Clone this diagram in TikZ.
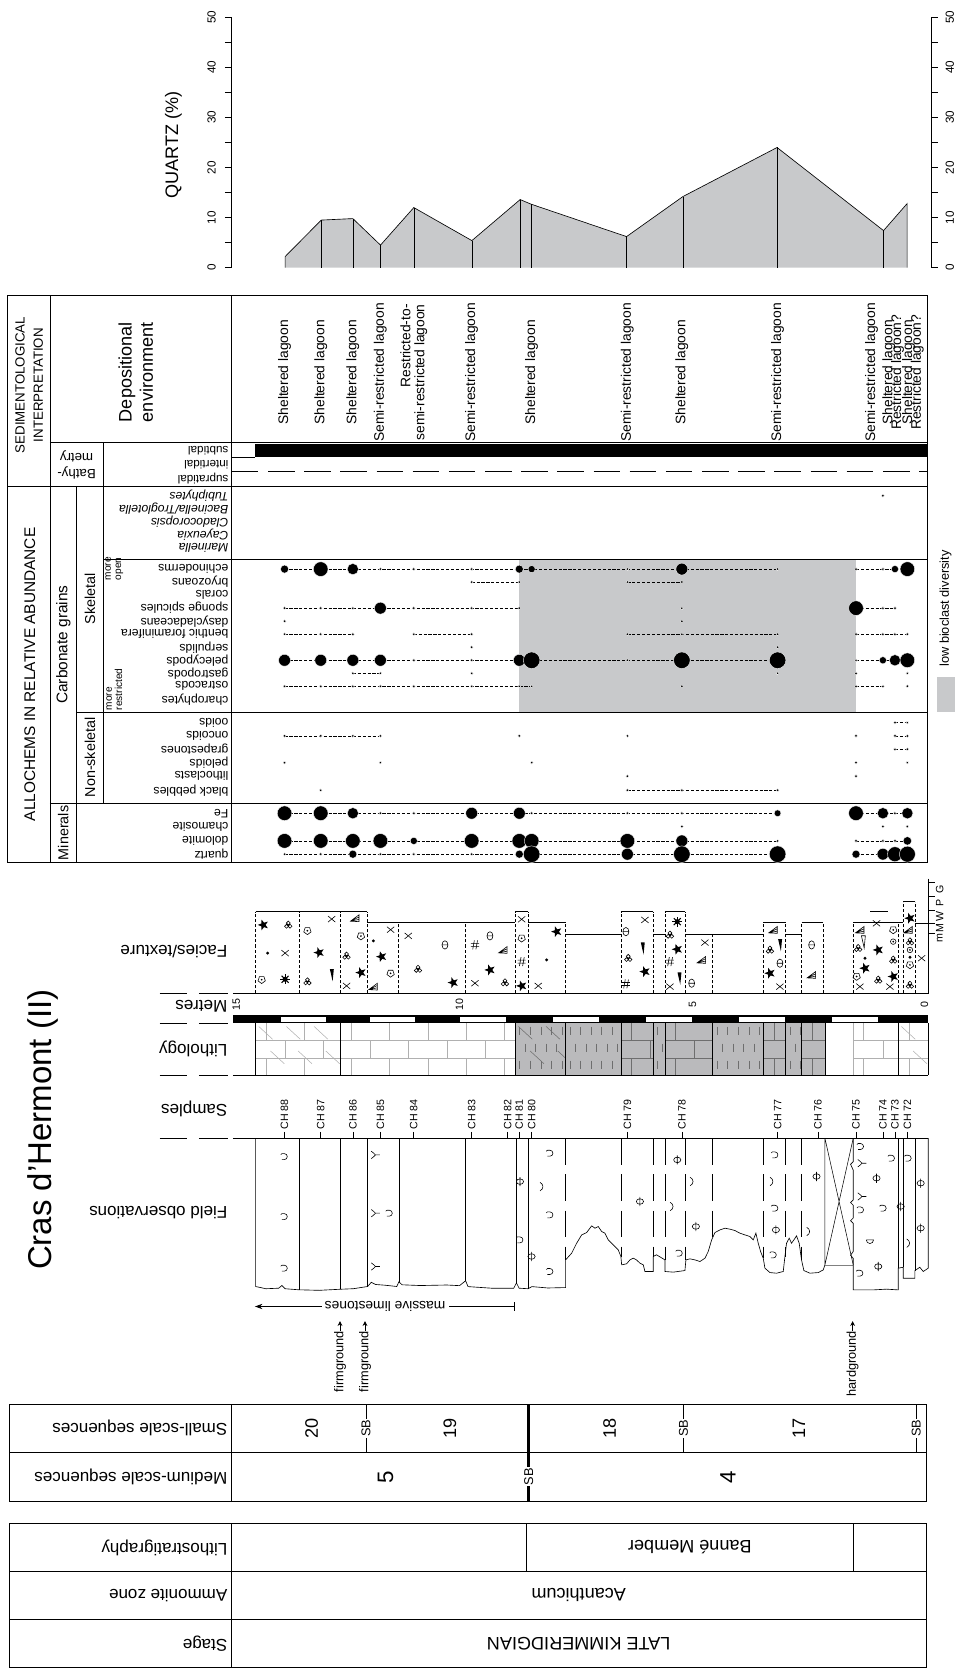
\documentclass[tikz,border=0pt]{standalone}
\usepackage{fontspec}
\setmainfont{Liberation Sans}
\usetikzlibrary{positioning,arrows.meta}

\definecolor{lowdiv}{RGB}{200,201,203}
\definecolor{dolofill}{RGB}{186,186,188}
\definecolor{brickgray}{RGB}{176,176,176}
\definecolor{brickdark}{RGB}{110,110,110}

\newcommand\fsz[1]{\fontsize{#1}{#1}\selectfont}

% one run of dots in an allochem row: y, first x, last x, x/radius list
\newcommand\abrow[4]{%
  \draw[abline] (#2,#1) -- (#3,#1);
  \foreach \px/\pr in {#4} {\filldraw[abdot] (\px,#1) circle (\pr pt);}}

% lithology patterns: left x, right x, colour
\newcommand\bricks[3]{%
  \begin{scope}
    \clip (#1,962) rectangle (#2,1011);
    \draw[#3, line width=0.5pt] (#1,978.3) -- (#2,978.3) (#1,994.6) -- (#2,994.6);
    \foreach \bx in {0,36,...,180}
      \draw[#3, line width=0.5pt] ({#1+\bx+10},962) -- ++(0,16.3)
        ({#1+\bx+28},978.3) -- ++(0,16.3) ({#1+\bx+10},994.6) -- ++(0,16.4);
  \end{scope}}
\newcommand\slashes[3]{%
  \begin{scope}
    \clip (#1,962) rectangle (#2,1011);
    \foreach \bx in {0,26,...,104}
      \draw[#3, line width=0.5pt] ({#1+\bx+3},965) -- ++(13,12) ({#1+\bx+14},988) -- ++(13,12);
  \end{scope}}
\newcommand\vdashes[2]{%
  \begin{scope}
    \clip (#1,962) rectangle (#2,1011);
    \foreach \bx in {0,10,...,60}
      \draw[brickdark, line width=0.5pt] ({#1+\bx+4},965) -- ++(0,8)
        ({#1+\bx+9},981) -- ++(0,8) ({#1+\bx+4},997) -- ++(0,8);
  \end{scope}}

\begin{document}
\begin{tikzpicture}[x=1pt, y=-1pt, line width=0.6pt,
    every node/.style={inner sep=0pt},
    readup/.style={rotate=90},
    upsdown/.style={rotate=180, anchor=west},
    colhead/.style={upsdown, font=\fsz{16}},
    grainlab/.style={upsdown, font=\fsz{11.5}},
    boxline/.style={line width=0.8pt},
    abline/.style={line width=0.45pt, dash pattern=on 3pt off 1.6pt},
    abdot/.style={fill=black, draw=white, line width=0.35pt},
    facside/.style={line width=0.5pt, dash pattern=on 3pt off 1.8pt},
    longdash/.style={line width=0.6pt, dash pattern=on 25pt off 9pt},
    symline/.style={line width=0.55pt},
    starsym/.pic={\fill (180:5.3) -- (216:2.2) -- (252:5.3) -- (288:2.2) -- (324:5.3)
      -- (0:2.2) -- (36:5.3) -- (72:2.2) -- (108:5.3) -- (144:2.2) -- cycle;},
    crosssym/.pic={\draw[symline] (-3.4,-2.8) -- (3.4,2.8) (-3.4,2.8) -- (3.4,-2.8);},
    dotsym/.pic={\fill (0,0) circle (1.5pt);},
    pentsym/.pic={\draw[symline] (90:3.6) -- (162:3.6) -- (234:3.6) -- (306:3.6) -- (18:3.6) -- cycle;
      \fill (0,0) circle (0.9pt);},
    trefsym/.pic={\draw[symline] (0,-1.8) circle (1.8pt) (-1.7,1.3) circle (1.8pt) (1.7,1.3) circle (1.8pt);},
    sunsym/.pic={\fill (0,0) circle (2.4pt);
      \foreach \a in {0,45,...,315} \draw[line width=1pt] (\a:1.8) -- (\a:4.6);},
    dagsym/.pic={\fill (-1.7,-5.5) -- (2,-5.5) -- (0.9,6) -- cycle;},
    opentri/.pic={\draw[symline] (-1.7,-5.5) -- (2,-5.5) -- (0.9,6) -- cycle;},
    shellsym/.pic={\draw[symline] (0,0) ellipse (2.8pt and 3.9pt) (-2.8,0) -- (2.8,0);},
    fansym/.pic={\draw[symline] (-4.3,2.8) -- (3.8,-3.2) -- (3.8,3.2) -- cycle (-4.3,2.8) -- (3.8,-1.1) (-4.3,2.8) -- (3.8,1.1);},
    hashsym/.pic={\draw[symline] (-3.8,-1.4) -- (3.8,-1.4) (-3.8,1.4) -- (3.8,1.4)
      (-2.1,4.2) -- (-0.6,-4.2) (0.9,4.2) -- (2.4,-4.2);},
    bullsym/.pic={\draw[symline] (0,0) circle (2.6pt); \fill (0,0) circle (0.9pt);},
    burrsym/.pic={\draw[symline] (-2.4,-2.8) -- (0,-2.8) arc (-90:90:2.8) -- (-2.4,2.8)
      (-2.4,-2.8) -- (-3.4,-1.8);},
    phisym/.pic={\draw[symline] (0,0) ellipse (3.4pt and 2.6pt) (0,-4.3) -- (0,4.3);},
    ysym/.pic={\draw[symline] (4.5,0) -- (0.5,0) .. controls (-1.5,0) and (-1,-3.5) .. (-3.5,-3.5)
      (0.5,0) .. controls (-1.5,0) and (-1,3.5) .. (-3.5,3.5);},
    parsym/.pic={\draw[symline] (-1.4,-4) .. controls (2.2,-2) and (2.2,2) .. (-1.4,4);},
    domesym/.pic={\draw[symline] (-3.4,1.6) -- (3.4,1.6) arc (0:180:3.4);}
  ]
\useasboundingbox (0,0) rectangle (910,1569);

% ---------- quartz curve
\fill[lowdiv] (268,251.6) \foreach \x/\v in {268/2.2, 302/9.5, 331.7/9.8, 357.7/4.5, 389/12,
    443.6/5.4, 489/13.6, 499/12.7, 589/6.2, 642/14.2, 730.5/24, 830.6/7.4, 852.8/12.8}
  {-- (\x,{251.6-4.706*\v})} -- (852.8,251.6) -- cycle;
\draw (268,251.6) \foreach \x/\v in {268/2.2, 302/9.5, 331.7/9.8, 357.7/4.5, 389/12,
    443.6/5.4, 489/13.6, 499/12.7, 589/6.2, 642/14.2, 730.5/24, 830.6/7.4, 852.8/12.8}
  {-- (\x,{251.6-4.706*\v})} -- (852.8,251.6);
\foreach \x/\v in {302/9.5, 331.7/9.8, 357.7/4.5, 389/12, 443.6/5.4, 489/13.6, 499/12.7,
    589/6.2, 642/14.2, 730.5/24, 830.6/7.4}
  \draw[line width=0.5pt] (\x,251.6) -- (\x,{251.6-4.706*\v});
\draw (217.8,16.3) -- (217.8,251.6) (875.7,16.3) -- (875.7,251.6);
\foreach \v in {0,5,...,50}
  \draw (211.5,{251.6-4.706*\v}) -- (217.8,{251.6-4.706*\v})
        (875.7,{251.6-4.706*\v}) -- (882,{251.6-4.706*\v});
\foreach \v in {0,10,...,50} {
  \node[readup, font=\fsz{11}] (ql\v) at (199,{251.6-4.706*\v}) {\v};
  \node[readup, font=\fsz{11}] (qr\v) at (893,{251.6-4.706*\v}) {\v};}
\node[readup, font=\fsz{17}] (qlab) at (163,136) {QUARTZ (\%)};

% ---------- sedimentology and allochem table
\fill[lowdiv] (488.2,526.4) rectangle (804.7,669.6);
\fill (240,417.5) rectangle (872,430);
\draw (218,430) -- (240,430);
\draw[longdash] (218,443) -- (872,443);
\draw[boxline] (7,278) rectangle (872,811);
\draw[boxline] (47,278) -- (47,811) (218,278) -- (218,811) (72,457) -- (72,811) (97,416) -- (97,755)
  (47,416) -- (872,416) (7,457) -- (872,457) (97,526) -- (872,526) (72,670) -- (872,670)
  (47,755) -- (872,755);

\node[readup, align=center, font=\fontsize{12.5}{17}\selectfont] (sedhd) at (27.4,362)
  {SEDIMENTOLOGICAL\\INTERPRETATION};
\node[readup, font=\fsz{14.5}] (allhd) at (28,634) {ALLOCHEMS IN RELATIVE ABUNDANCE};
\node[readup, align=center, font=\fontsize{17}{20}\selectfont] (dephd) at (127.7,350)
  {Depositional\\environment};
\node[rotate=180, align=center, font=\fontsize{12.5}{15}\selectfont] (bathy) at (72,437) {Bathy-\\metry};
\node[readup, font=\fsz{14.5}] (carb) at (59.5,606) {Carbonate grains};
\node[readup, font=\fsz{13.5}] (skel) at (84.6,563) {Skeletal};
\node[readup, font=\fsz{13.5}] (nskel) at (84.6,712) {Non-skeletal};
\node[readup, font=\fsz{13.5}] (minr) at (59.5,783) {Minerals};
\node[readup, anchor=west, align=left, font=\fsz{9.5}] (mopen) at (107.5,545.7) {more\\open};
\node[readup, anchor=west, align=left, font=\fsz{9.5}] (mrestr) at (107.5,667.9) {more\\restricted};

\foreach \t/\y [count=\i] in {subtidal/423.7, intertidal/436.8, supratidal/450}
  \node[grainlab, font=\fsz{11}] (bat\i) at (215,\y) {\t};
\foreach \t/\y [count=\i] in {Tubiphytes/466, {Bacinella/Troglotella}/478.3, Cladocoropsis/490.5,
    Cayeuxia/502.8, Marinella/515}
  \node[grainlab, font=\fsz{11.5}\itshape] (alg\i) at (215,\y) {\t};
\foreach \t/\y [count=\i] in {echinoderms/535, bryozoans/547.2, corals/559.5, sponge spicules/571.7,
    dasycladaceans/584, benthic foraminifera/596.2, serpulids/608.5, pelecypods/620.7,
    gastropods/633, ostracods/645.2, charophytes/657.4, ooids/679.3, oncoids/691.8,
    grapestones/704.4, peloids/716.9, lithoclasts/729.7, black pebbles/742.9,
    Fe/764.5, chamosite/777, dolomite/790.5, quartz/803}
  \node[grainlab] (gr\i) at (215,\y) {\t};

\foreach \x/\t [count=\i] in {267.5/Sheltered lagoon, 301.5/Sheltered lagoon, 331.7/Sheltered lagoon,
    357.6/Semi-restricted lagoon, 443.4/Semi-restricted lagoon, 499.8/Sheltered lagoon,
    589.8/Semi-restricted lagoon, 641/Sheltered lagoon, 731/Semi-restricted lagoon,
    819.3/Semi-restricted lagoon, 835.5/Sheltered lagoon, 843.8/Restricted lagoon?,
    854/Sheltered lagoon, 862.3/Restricted lagoon?}
  \node[readup, font=\fsz{13}] (env\i) at (\x,350) {\t};
\node[readup, align=right, font=\fsz{13}] (envrt) at (389,350) {Restricted-to-\\semi-restricted lagoon};

% allochem abundances
\abrow{535}{267.5}{731}{267.5/3.8, 301.5/6.9, 331.7/5.3, 357.6/1.4, 389/1.4, 443.4/1.4, 488.2/3.8,
  499.8/3.4, 589.8/1.4, 641/5.6, 731/1.4}
\abrow{535}{804.7}{853}{804.7/1.4, 830/1.4, 841.3/3.4, 853/6.9}
\abrow{547.2}{443.4}{488.2}{443.4/1.4, 488.2/1.4}
\abrow{547.2}{589.8}{641}{589.8/1.4, 641/1.4}
\abrow{571.7}{267.5}{488.2}{267.5/1.4, 301.5/1.4, 331.7/1.4, 357.6/5.6, 389/1.4, 443.4/1.4, 488.2/1.4}
\abrow{571.7}{804.7}{841.3}{804.7/6.9, 830/1.4, 841.3/1.4}
\abrow{596.2}{267.5}{331.7}{267.5/1.4, 301.5/1.4, 331.7/1.4}
\abrow{596.2}{389}{443.4}{389/1.4, 443.4/1.4}
\abrow{596.2}{589.8}{731}{589.8/1.4, 641/1.4, 731/1.4}
\abrow{596.2}{804.7}{853}{804.7/1.4, 830/1.4, 841.3/1.4, 853/1.4}
\abrow{620.7}{267.5}{731}{267.5/5.6, 301.5/5.6, 331.7/5.6, 357.6/5.6, 389/1.4, 443.4/1.4, 488.2/5.6,
  499.8/7.8, 589.8/1.4, 641/7.8, 731/7.8}
\abrow{620.7}{804.7}{853}{804.7/1.4, 830/3.4, 841.3/5.3, 853/6.9}
\abrow{633}{331.7}{357.6}{331.7/1.4, 357.6/1.4}
\abrow{645.2}{267.5}{499.8}{267.5/1.4, 301.5/1.4, 331.7/1.4, 357.6/1.4, 389/1.4, 443.4/1.4, 488.2/1.4, 499.8/1.4}
\abrow{645.2}{804.7}{830}{804.7/1.4, 830/1.4}
\abrow{679.3}{841.3}{853}{841.3/1.4, 853/1.4}
\abrow{691.8}{267.5}{357.6}{267.5/1.4, 301.5/1.4, 331.7/1.4, 357.6/1.4}
\abrow{691.8}{841.3}{853}{841.3/1.4, 853/1.4}
\abrow{704.4}{841.3}{853}{841.3/1.4, 853/1.4}
\abrow{742.9}{589.8}{731}{589.8/1.4, 641/1.4, 731/1.4}
\abrow{764.5}{267.5}{731}{267.5/6.9, 301.5/6.9, 331.7/5.3, 357.6/1.4, 389/1.4, 443.4/5.6, 488.2/5.6,
  499.8/1.4, 589.8/1.4, 641/1.4, 731/3.2}
\abrow{764.5}{804.7}{853}{804.7/6.9, 830/5.3, 841.3/1.4, 853/5.3}
\abrow{790.5}{267.5}{731}{267.5/6.9, 301.5/6.9, 331.7/6.9, 357.6/6.9, 389/3.4, 443.4/6.9, 488.2/6.9,
  499.8/6.9, 589.8/6.9, 641/5.6, 731/1.4}
\abrow{790.5}{804.7}{853}{804.7/1.4, 830/1.4, 841.3/1.4, 853/4}
\abrow{803}{267.5}{731}{267.5/1.4, 301.5/1.4, 331.7/3.8, 357.6/1.4, 389/1.4, 443.4/1.4, 488.2/3.8,
  499.8/7.8, 589.8/5.6, 641/7.8, 731/7.8}
\abrow{803}{804.7}{853}{804.7/3.8, 830/5.5, 841.3/7, 853/7.5}
\foreach \px/\py in {641/571.7, 267.5/584, 641/584, 443.4/608.5, 731/608.5, 443.4/633, 731/633,
    804.7/633, 853/633, 641/645.2, 853/645.2, 830/466, 488.2/691.8, 589.8/691.8, 804.7/691.8,
    267.5/716.9, 357.6/716.9, 499.8/716.9, 804.7/716.9, 853/716.9, 589.8/729.7, 804.7/729.7,
    301.5/742.9, 641/777, 830/777, 853/777}
  \filldraw[abdot] (\px,\py) circle (1.4pt);

% legend
\node[readup, font=\fsz{12}] (leglab) at (889,572) {low bioclast diversity};
\fill[lowdiv] (880.5,636) rectangle (898,669);

% ---------- title and column heads
\node[readup, font=\fsz{31}] (title) at (40,1062) {Cras d'Hermont (II)};
\node[colhead] (hfac) at (214,895) {Facies/texture};
\node[colhead] (hmet) at (214,946) {Metres};
\node[colhead] (hlit) at (214,986) {Lithology};
\node[colhead] (hsam) at (214,1042) {Samples};
\node[colhead] (hfob) at (214,1140) {Field observations};
\foreach \y in {934,962,1011,1070}
  \draw (150,\y) -- (176,\y) (187,\y) -- (214,\y);

% ---------- facies / texture
\foreach \a/\b/\t in {240.3/281.4/857, 281.4/320.2/857, 320.2/345.3/857, 345.3/374.7/867.3,
    374.7/437.7/867.3, 437.7/484.4/867, 484.4/496.6/857, 496.6/531.7/867, 583.7/614/857,
    625/643.9/857, 643.9/669.9/878, 717.5/738.5/867, 753.5/773.9/867, 802/844.4/867,
    844.4/849/867, 849/860/847.6} {
  \draw (\a,\t) -- (\b,\t);
  \draw[facside] (\a,934) -- (\a,\t) (\b,934) -- (\b,\t);}
\draw (531.7,878) -- (583.7,878) (614,878) -- (625,878) (669.9,878) -- (717.5,878)
  (738.5,878) -- (753.5,878) (860,868) -- (872.6,868) (818,857) -- (835,857);
\draw (219,934) -- (872.6,934);
\draw (872.6,826) -- (872.6,934);
\foreach \y in {829.7,842.2,855.4,868,877.3} \draw (872.6,\y) -- (879,\y);
\foreach \l/\y [count=\i] in {m/881.5, M/872.7, W/861.5, P/849, G/836}
  \node[readup, font=\fsz{10}] (tex\i) at (883.5,\y) {\l};

\foreach \px/\py in {247.5/869.5, 300/895.5, 339.3/914.3, 358.7/899.3, 426/923.7, 460.6/911.8,
    490.4/926.8, 523.3/875.8, 606.3/913.4, 636.7/892.4, 723.8/914.9, 825.6/893, 813.1/910.2,
    839.7/918, 855.4/863.2} \pic at (\px,\py) {starsym};
\foreach \px/\py in {268/896, 311.8/864, 325.8/926.8, 367.2/874, 383.8/879.8, 446.5/924.3,
    490.4/864.2, 506/926.8, 606.3/864.8, 629.8/927.5, 662.7/886.1, 733.2/927.5, 824/868,
    808.4/927.5, 836.6/927.5, 866.4/900.8} \pic at (\px,\py) {crosssym};
\foreach \px/\py in {251.6/896, 351/884.5, 513.9/902.4, 813.1/900.8, 855.4/899.9}
  \pic at (\px,\py) {dotsym};
\foreach \px/\py in {246/921, 289/875, 339.3/880, 367.2/915, 490.4/882, 805.3/918, 839.7/874.2,
    855.4/907.1} \pic at (\px,\py) {pentsym};
\foreach \px/\py in {271/869.5, 289/922.8, 325.8/898.6, 393/911, 474.7/923.7, 590.6/900.8,
    629.8/878.9, 723.8/893, 806.8/891.4, 825.6/921.2, 839.7/902.4, 855.4/885.2, 855.4/926}
  \pic at (\px,\py) {trefsym};
\foreach \px/\py in {268/920.6, 636.7/866.4} \pic at (\px,\py) {sunsym};
\foreach \px/\py in {311.8/916.5, 604.1/891.4, 638.6/919.6, 733.2/888.3} \pic at (\px,\py) {dagsym};
\pic at (811.5,885.2) {opentri};
\foreach \px/\py in {418.3/888.3, 460.6/879.8, 588.4/875.8, 650.2/924.3, 733.2/905.5, 763/888.3}
  \pic at (\px,\py) {shellsym};
\foreach \px/\py in {333.7/863.2, 351/927.5, 473/893, 659.5/902.4, 726.9/874.2, 763/916.5,
    808.4/874.2, 853.8/874.2} \pic at (\px,\py) {fansym};
\foreach \px/\py in {446.5/888.3, 490.4/904, 588.4/925, 629.8/904} \pic at (\px,\py) {hashsym};
\foreach \px/\py in {839.7/885.2, 855.4/893} \pic at (\px,\py) {bullsym};

% ---------- metres scale
\fill (219,954.5) rectangle (872.6,962);
\foreach \a/\b in {264/306, 348/390, 432/475.8, 519.6/563.4, 607.2/651, 694.6/738.2, 781.8/825.4}
  \fill[white] (\a,956.5) rectangle (\b,960.3);
\foreach \x/\m in {222/15, 432/10, 651/5, 869/0}
  \node[readup, font=\fsz{10}] (m\m) at (\x,944) {\m};

% ---------- lithology
\fill[dolofill] (484.4,962) rectangle (775.5,1011);
\bricks{240.3}{320.2}{brickgray} \slashes{240.3}{320.2}{brickgray}
\bricks{320.2}{484.4}{brickgray}
\slashes{484.4}{531.7}{brickdark} \vdashes{484.4}{531.7}
\vdashes{531.7}{583.7} \bricks{583.7}{614}{brickdark} \vdashes{614}{625}
\bricks{625}{669.9}{brickdark} \vdashes{669.9}{717.5} \bricks{717.5}{738.5}{brickdark}
\vdashes{738.5}{753.6} \bricks{753.6}{775.5}{brickdark}
\bricks{802}{844.4}{brickgray}
\bricks{844.4}{872.6}{brickgray} \slashes{844.4}{872.6}{brickgray}
\foreach \x in {240.3,320.2,484.4,531.7,583.7,614,625,669.9,717.5,738.5,753.6,775.5,844.4,872.6}
  \draw (\x,962) -- (\x,1011);
\draw[brickgray] (802,962) -- (802,1011);
\draw (219,1011) -- (872.6,1011);

% ---------- samples
\foreach \x/\n in {267.5/88, 301.5/87, 331.7/86, 357.6/85, 389/84, 443.4/83, 477.2/82, 488.2/81,
    499.8/80, 589.8/79, 641/78, 731/77, 769/76, 804.7/75, 830/74, 841.3/73, 853/72} {
  \draw (\x,1064) -- (\x,1070);
  \node[readup, anchor=west, font=\fsz{10}] (ch\n) at (\x,1062) {CH \n};}

% ---------- field observations
\draw (219,1070) -- (872.6,1070);
\draw (240.3,1070) -- (240.3,1209.4) -- (250,1211.5) -- (262,1211) -- (265,1208.5) -- (268,1211.5)
  -- (281,1212.5) -- (300,1213) -- (319.6,1212) -- (332,1211.5) -- (345.6,1209.4) -- (349,1205.5)
  -- (353,1207.5) -- (362,1208.2) -- (373,1209.4) -- (375,1205) -- (378,1207.8) -- (395,1208.5)
  -- (420,1208) -- (432,1208.6) -- (437.7,1204) -- (440,1209.5) -- (462,1211) -- (483,1211)
  -- (485.5,1206) -- (488,1211) -- (496.5,1211.5) -- (500,1209.5) -- (515,1210.8) -- (531.7,1210.4)
  -- (531.7,1184.4) -- (537.4,1178.1) -- (542.1,1168.7) -- (546.8,1160.9) -- (551.5,1158.7)
  -- (556.2,1152.4) -- (559.3,1154.6) -- (562.4,1153) -- (565.6,1157.7) -- (568.7,1159.3)
  -- (571.8,1165.6) -- (575,1168.7) -- (578.1,1171.8) -- (581.2,1175) -- (583.7,1181.2)
  -- (584.4,1189) -- (589,1188.1) -- (592.2,1184.4) -- (595.3,1182.8) -- (598.4,1184.4)
  -- (601.6,1187.5) -- (604.7,1189) -- (606.3,1195.3) -- (614.1,1195.3) -- (614.1,1181.2)
  -- (617.2,1179.6) -- (621,1181.9) -- (625.1,1184.4) -- (625.1,1195.3) -- (632.9,1195.9)
  -- (643.9,1194.4) -- (644.8,1184.4) -- (648.6,1183.4) -- (653.3,1184.4) -- (658,1185.9)
  -- (662.7,1182.8) -- (665.8,1176.5) -- (669,1165.6) -- (672.1,1158.7) -- (676.8,1156.2)
  -- (681.5,1154.6) -- (686.2,1155.5) -- (690.9,1156.8) -- (695.6,1159.3) -- (700.3,1160.9)
  -- (705,1162.4) -- (708.1,1165.6) -- (710.6,1159.3) -- (712.8,1168.7) -- (715,1176.5)
  -- (717.5,1182.8) -- (719.1,1192.2) -- (723.8,1196.3) -- (730,1196.9) -- (736.3,1195.3)
  -- (737.9,1181.2) -- (739.4,1168.7) -- (741.9,1164) -- (744.1,1168.7) -- (746.3,1165.6)
  -- (748.8,1161.8) -- (751.3,1168.7) -- (753.5,1184.4) -- (755.7,1194.4) -- (761.4,1196.9)
  -- (769.2,1196.3) -- (773.9,1193.8) -- (775.5,1189.1);
\foreach \x/\b in {281/1212.5, 319.6/1212, 345.6/1209.4, 375/1205, 437.7/1204, 485/1206, 496.5/1211.5}
  \draw (\x,1070) -- (\x,\b);
\foreach \x/\b in {531.7/1184.4, 583.7/1181.2, 614.1/1181.2, 625.1/1184.4, 643.9/1184.4,
    669.9/1165.6, 717.5/1182.8, 738.5/1181.2, 753.5/1184.4}
  \draw[longdash] (\x,1070) -- (\x,\b);
\draw[line width=0.5pt] (775.5,1070) -- (775.5,1189.1) (775.5,1070) -- (802.1,1189.1)
  (802.1,1070) -- (775.5,1189.1);
\draw[gray, line width=0.5pt] (775.5,1189.1) -- (802.1,1189.1);
\draw (802.1,1070) -- (802.1,1092) -- (799.6,1094.5) -- (802.1,1100) -- (802.1,1128) -- (799.6,1130.5)
  -- (802.1,1133) -- (802.1,1145) -- (799.6,1147.5) -- (802.1,1150) -- (802.1,1176.5)
  -- (799.6,1180) -- (802.1,1183) -- (802.1,1212.6) -- (820.9,1212.6) -- (833.4,1211.9)
  -- (844.4,1212.6) -- (844.4,1192.2) -- (849.1,1191.3) -- (849.1,1201.6) -- (860.1,1201.6)
  -- (860.1,1194.4) -- (864.7,1191.3) -- (867.9,1195.3) -- (872.6,1192.2) -- (872.6,1070);
\draw (844.4,1070) -- (844.4,1192.2) (849.1,1070) -- (849.1,1191.3) (860.1,1070) -- (860.1,1194.4);

\foreach \px/\py in {267.3/1087.3, 267.3/1143.7, 267.3/1192.2, 366/1140.5, 488.8/1165.6, 517/1084.1,
    517/1142.1, 517/1195.3, 638.6/1178.1, 728.5/1085.7, 728.5/1135.8, 727/1179.7, 809/1077.8,
    809/1137.4, 830.3/1135.8, 808.4/1196.9, 838.1/1088.8, 853.8/1088.8}
  \pic at (\px,\py) {burrsym};
\foreach \px/\py in {488.8/1110.8, 499.7/1181.2, 601.6/1129.5, 636.7/1090.4, 654.2/1153, 729.4/1156.2,
    767.6/1106, 824/1107.6, 825.6/1190.6, 846.7/1134.2, 865.5/1112.3, 865.5/1154.6}
  \pic at (\px,\py) {phisym};
\foreach \px/\py in {352.5/1085.7, 352.5/1140.5, 352.5/1190.6, 809.9/1093.5, 809.9/1124.8}
  \pic at (\px,\py) {ysym};
\foreach \px/\py in {509.1/1115.5, 650.2/1110.7, 631.4/1134.2, 725.3/1110.7, 759.8/1157.7, 853.8/1168.7}
  \pic at (\px,\py) {parsym};
\pic at (817.8,1164) {domesym};

% ---------- massive limestones, surfaces
\coordinate (mlR) at (484,1228.2);
\coordinate (mlL) at (239.7,1228.2);
\draw[{Bar[width=8pt]}-{Stealth[length=7pt,width=5pt]}] (mlR) -- (mlL);
\node[rotate=180, fill=white, inner xsep=3pt, inner ysep=1pt, font=\fsz{13}] (mass) at (362,1228.2)
  {massive limestones};
\foreach \x/\t [count=\i] in {319.6/firmground, 343.1/firmground, 801.5/hardground} {
  \node[readup, anchor=east, font=\fsz{12}] (surf\i) at (\x,1251) {\t};
  \draw[-{Stealth[length=4.5pt,width=4.5pt]}] (surf\i.east) -- ++(0,-9);}

% ---------- sequences
\draw[boxline] (9,1320) rectangle (871,1411.4);
\draw[boxline] (9,1365.2) -- (871,1365.2) (217.5,1320) -- (217.5,1411.4);
\node[colhead] (hss) at (214,1342.7) {Small-scale sequences};
\node[colhead] (hms) at (214,1388.3) {Medium-scale sequences};
\foreach \x [count=\i] in {344,642.6,861.3} {
  \draw (\x,1320) -- (\x,1365.2);
  \node[readup, fill=white, inner sep=1pt, font=\fsz{12}] (sb\i) at (\x,1342.7) {SB};}
\draw[line width=2.6pt] (497,1320) -- (497,1411.4);
\node[readup, fill=white, inner sep=1pt, font=\fsz{12}] (sbm) at (497,1388.3) {SB};
\foreach \x/\n in {293/20, 423/19, 573/18, 751/17}
  \node[readup, font=\fsz{17}] (ss\n) at (\x,1342.7) {\n};
\node[readup, font=\fsz{21}] (ms5) at (362.5,1388.3) {5};
\node[readup, font=\fsz{21}] (ms4) at (684.4,1388.3) {4};

% ---------- stratigraphy
\draw[boxline] (9,1432.1) rectangle (871,1567.5);
\draw[boxline] (9,1477.3) -- (871,1477.3) (9,1522.2) -- (871,1522.2) (217.5,1432.1) -- (217.5,1567.5)
  (495,1432.1) -- (495,1477.3) (802,1432.1) -- (802,1477.3);
\node[colhead] (hlst) at (214,1454.7) {Lithostratigraphy};
\node[colhead] (hamm) at (214,1499.8) {Ammonite zone};
\node[colhead] (hstg) at (214,1544.9) {Stage};
\node[rotate=180, font=\fsz{17}] (banne) at (648.5,1454.7) {Banné Member};
\node[rotate=180, font=\fsz{17}] (acan) at (544,1499.8) {Acanthicum};
\node[rotate=180, font=\fsz{17}] (late) at (544,1544.9) {LATE KIMMERIDGIAN};
\end{tikzpicture}
\end{document}
